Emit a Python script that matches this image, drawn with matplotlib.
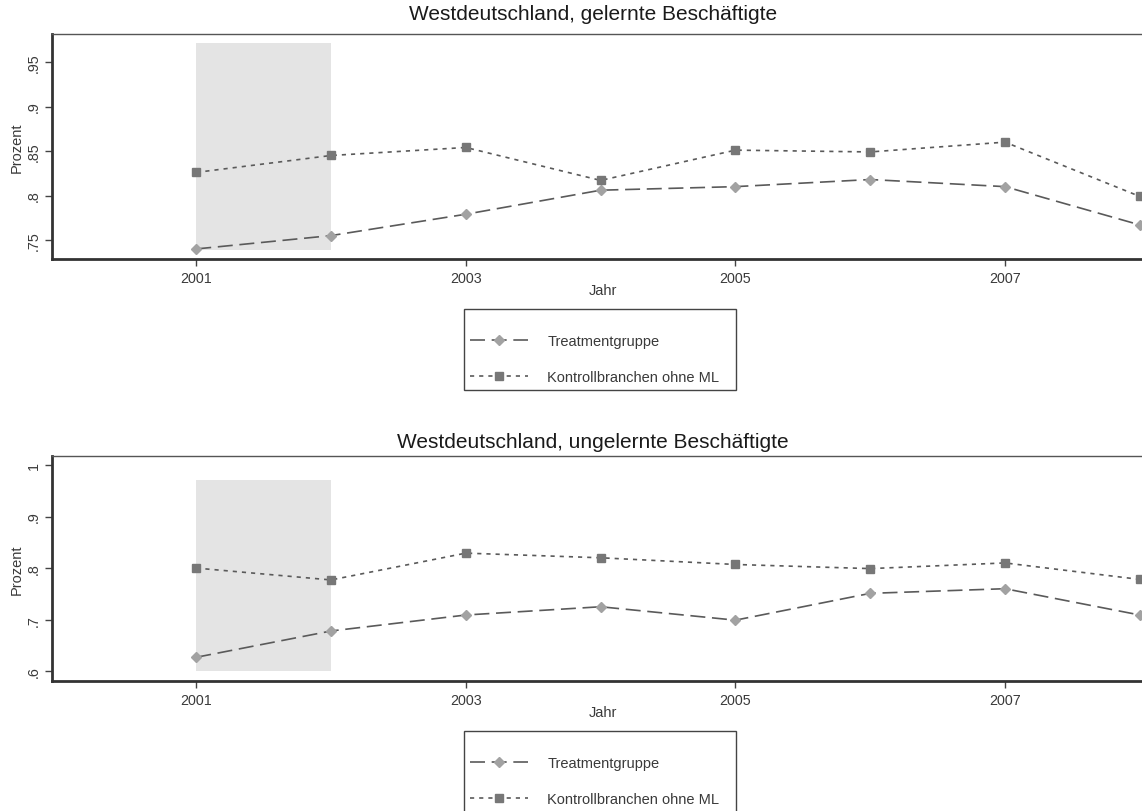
import numpy as np
import matplotlib
matplotlib.use("Agg")
import matplotlib.pyplot as plt
from matplotlib.ticker import FuncFormatter
from matplotlib.patches import Rectangle
from matplotlib.lines import Line2D

plt.rcParams['font.family'] = ['Liberation Sans', 'DejaVu Sans']

# ─────────────────────────────────────────────
# Data
# ─────────────────────────────────────────────
years = [2001, 2002, 2003, 2004, 2005, 2006, 2007, 2008]

# Westdeutschland, gelernte Beschaeftigte
treat_gel = [0.740, 0.755, 0.779, 0.806, 0.810, 0.818, 0.810, 0.767]
kontr_gel = [0.826, 0.845, 0.854, 0.817, 0.851, 0.849, 0.860, 0.799]

# Westdeutschland, ungelernte Beschaeftigte
treat_ungel = [0.627, 0.678, 0.709, 0.725, 0.699, 0.751, 0.760, 0.709]
kontr_ungel = [0.800, 0.777, 0.829, 0.820, 0.807, 0.799, 0.810, 0.778]

panels = [
    dict(title='Westdeutschland, gelernte Beschäftigte',
         treat=treat_gel, kontr=kontr_gel,
         yticks=[0.75, 0.80, 0.85, 0.90, 0.95],
         ylim=(0.7287, 0.9815), shade=(0.7388, 0.9713)),
    dict(title='Westdeutschland, ungelernte Beschäftigte',
         treat=treat_ungel, kontr=kontr_ungel,
         yticks=[0.6, 0.7, 0.8, 0.9, 1.0],
         ylim=(0.581, 1.0174), shade=(0.600, 0.9715)),
]
xticks = [2001, 2003, 2005, 2007]
shade_years = (2001, 2002)
labels = ['Treatmentgruppe', 'Kontrollbranchen ohne ML']

# ─────────────────────────────────────────────
# Layout (pixels in the 1142x812 canvas)
# ─────────────────────────────────────────────
W, H = 1142, 812
XLIM = (1999.93, 2009.0)
PX_PER_YEAR = 134.8
AX_LEFT = 52
AX_BOX = [(35, 260), (457, 682)]          # (top, bottom) of each plot region
TITLE_Y = [14, 443]
XLAB_Y = [291, 713]
LEG_BOX = [(464, 310, 736, 391), (464, 732, 736, 830)]

LINE_C = '#5a5a5a'
TXT_C = '#3a3a3a'

def stata_fmt(v, pos):
    s = f'{v:g}'
    return s[1:] if s.startswith('0.') else s

fig = plt.figure(figsize=(W / 100, H / 100), dpi=100)

for i, p in enumerate(panels):
    top, bot = AX_BOX[i]
    width = (XLIM[1] - XLIM[0]) * PX_PER_YEAR
    ax = fig.add_axes([AX_LEFT / W, 1 - bot / H, width / W, (bot - top) / H])

    ax.fill_between(shade_years, p['shade'][0], p['shade'][1],
                    color='#e4e4e4', lw=0, zorder=0)

    ax.plot(years, p['treat'], color=LINE_C, lw=1.2,
            dashes=(9, 4), marker='D', ms=4.8,
            mfc='#a2a2a2', mec='#a2a2a2', zorder=3)
    ax.plot(years, p['kontr'], color=LINE_C, lw=1.2,
            dashes=(2.5, 3), marker='s', ms=5.4,
            mfc='#777777', mec='#777777', zorder=3)

    ax.set_xlim(*XLIM)
    ax.set_ylim(*p['ylim'])
    ax.set_xticks(xticks)
    ax.set_yticks(p['yticks'])
    ax.yaxis.set_major_formatter(FuncFormatter(stata_fmt))
    ax.tick_params(axis='both', direction='out', length=5, width=1,
                   colors='#444444', labelcolor=TXT_C, labelsize=10.3)
    ax.tick_params(axis='y', labelrotation=90, pad=3)
    for lab in ax.get_yticklabels():
        lab.set_va('center')

    for side in ['left', 'bottom']:
        ax.spines[side].set_color('#333333')
        ax.spines[side].set_linewidth(2.0)
    ax.spines['top'].set_color('#555555')
    ax.spines['top'].set_linewidth(1.0)
    ax.spines['right'].set_visible(False)

    ax.set_ylabel('Prozent', fontsize=10.5, color=TXT_C, labelpad=2)

    fig.text(593 / W, 1 - TITLE_Y[i] / H, p['title'], ha='center',
             va='center', fontsize=15, color='#1a1a1a')
    fig.text(603 / W, 1 - XLAB_Y[i] / H, 'Jahr', ha='center', va='center',
             fontsize=10.5, color=TXT_C)

    # legend frame + entries
    x0, y0, x1, y1 = LEG_BOX[i]
    fig.patches.append(Rectangle((x0 / W, 1 - y1 / H), (x1 - x0) / W,
                                 (y1 - y0) / H, transform=fig.transFigure,
                                 fill=False, ec='#444444', lw=1.0))
    h1 = Line2D([], [], color=LINE_C, lw=1.2, dashes=(9, 4), marker='D',
                ms=4.8, mfc='#a2a2a2', mec='#a2a2a2')
    h2 = Line2D([], [], color=LINE_C, lw=1.2, dashes=(2.5, 3), marker='s',
                ms=5.4, mfc='#777777', mec='#777777')
    fig.legend([h1, h2], labels, loc='upper left',
               bbox_to_anchor=(470 / W, 1 - (y0 + 25) / H),
               frameon=False, fontsize=10.5, labelcolor=TXT_C,
               handlelength=4.0, handletextpad=1.3, labelspacing=1.5,
               borderpad=0, borderaxespad=0)

fig.savefig('out.png', dpi=100)
